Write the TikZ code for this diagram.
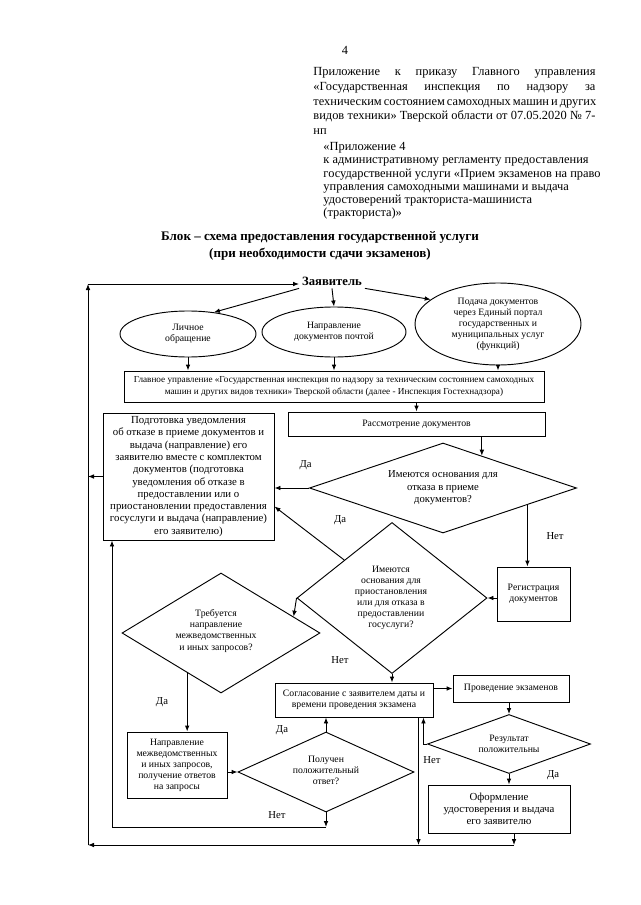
\documentclass[tikz,border=0pt]{standalone}
\usepackage{fontspec}
\setmainfont{Liberation Serif}
\usetikzlibrary{shapes.geometric,arrows.meta,calc}
\newcommand{\headfont}{\fontsize{9.3}{11.06}\selectfont}
\newcommand{\headfontb}{\fontsize{9.3}{9.9}\selectfont}
\newcommand{\titlefont}{\bfseries\fontsize{9.8}{12.75}\selectfont}
\newcommand{\zayfont}{\bfseries\fontsize{9.5}{11}\selectfont}
\newcommand{\flowfont}{\fontsize{7.3}{8.3}\selectfont}
\newcommand{\glavfont}{\fontsize{6.9}{8.3}\selectfont}
\newcommand{\midfont}{\fontsize{8}{9.3}\selectfont}
\newcommand{\bigfont}{\fontsize{8.1}{9.2}\selectfont}
\newcommand{\labfont}{\fontsize{8}{9}\selectfont}
\newcommand{\jline}[1]{\makebox[211.5pt][s]{#1}}
\begin{document}
\begin{tikzpicture}[x=0.75pt,y=-0.75pt,line width=0.7pt,
    box/.style={draw,rectangle,inner sep=0pt,align=center,font=\flowfont},
    ell/.style={draw,ellipse,inner sep=0pt,align=center,font=\flowfont},
    dec/.style={draw,diamond,inner sep=0pt},
    txt/.style={align=center,inner sep=0pt,font=\flowfont},
    lab/.style={inner sep=0pt,font=\labfont},
    arr/.style={-{Latex[length=4.5pt,width=3.5pt]}}]
    \useasboundingbox (0,0) rectangle (640,905);
    \node[inner sep=0pt,font=\headfont] (pnum) at (345,50) {4};
    \node[anchor=north west,inner sep=0pt,align=left,font=\headfont] (app1) at (313,67)
        {\jline{Приложение к приказу Главного управления}\\
         \jline{«Государственная инспекция по надзору за}\\
         \jline{техническим состоянием самоходных машин и других}\\
         \jline{видов техники» Тверской области от 07.05.2020 № 7-}\\
         нп};
    \node[anchor=north west,inner sep=0pt,align=left,font=\headfontb] (app2) at (323,142)
        {«Приложение 4\\к административному регламенту предоставления\\государственной услуги «Прием экзаменов на право\\управления самоходными машинами и выдача\\удостоверений тракториста-машиниста\\(тракториста)»};
    \node[inner sep=0pt,align=center,font=\titlefont] (title) at (320,245.5)
        {Блок – схема предоставления государственной услуги\\(при необходимости сдачи экзаменов)};

    \node[font=\zayfont,inner sep=2pt] (zay) at (332,281) {Заявитель};
    \node[ell,minimum width=102pt,minimum height=34.5pt] (el1) at (188,334) {Личное\\обращение};
    \node[ell,minimum width=108pt,minimum height=37.5pt] (el2) at (334,332) {Направление\\документов почтой};
    \node[ell,minimum width=124.5pt,minimum height=61.5pt] (el3) at (498,324)
        {Подача документов\\через Единый портал\\государственных и\\муниципальных услуг\\(функций)};
    \node[box,font=\glavfont,minimum width=315pt,minimum height=23.25pt] (glav) at (334,386.5)
        {Главное управление «Государственная инспекция по надзору за техническим состоянием самоходных\\машин и других видов техники» Тверской области (далее - Инспекция Гостехнадзора)};
    \node[box,minimum width=192.75pt,minimum height=18pt] (rass) at (416.5,424) {Рассмотрение документов};
    \node[box,font=\bigfont,minimum width=128.25pt,minimum height=95.25pt] (podg) at (188.5,476.5)
        {Подготовка уведомления\\об отказе в приеме документов и\\выдача (направление) его\\заявителю вместе с комплектом\\документов (подготовка\\уведомления об отказе в\\предоставлении или о\\приостановлении предоставления\\госуслуги и выдача (направление)\\его заявителю)};
    \node[dec,minimum width=200.25pt,minimum height=67.5pt] (d1) at (443,488) {};
    \node[txt,font=\midfont] (d1t) at (d1) {Имеются основания для\\отказа в приеме\\документов?};
    \node[box,minimum width=54.75pt,minimum height=40.5pt] (reg) at (533.5,594) {Регистрация\\документов};
    \node[dec,minimum width=142.5pt,minimum height=113.25pt] (d2) at (392,598) {};
    \node[txt] (d2t) at (391,598) {Имеются\\основания для\\приостановления\\или для отказа в\\предоставлении\\госуслуги?};
    \node[dec,minimum width=148.5pt,minimum height=90pt] (d3) at (221,633) {};
    \node[txt] (d3t) at (216,631) {Требуется\\направление\\межведомственных\\и иных запросов?};
    \node[box,minimum width=75pt,minimum height=49.5pt] (napr) at (177,765)
        {Направление\\межведомственных\\и иных запросов,\\получение ответов\\на запросы};
    \node[dec,minimum width=132pt,minimum height=60pt] (d4) at (326,772) {};
    \node[txt] (d4t) at (326,770) {Получен\\положительный\\ответ?};
    \node[box,minimum width=118.5pt,minimum height=25.5pt] (sogl) at (354,700)
        {Согласование с заявителем даты и\\времени проведения экзамена};
    \node[box,minimum width=87pt,minimum height=20.25pt] (prov) at (511,688.5) {Проведение экзаменов};
    \node[dec,minimum width=122.25pt,minimum height=44.25pt] (d5) at (509,744) {};
    \node[txt] (d5t) at (509,744) {Результат\\положительны};
    \node[box,font=\bigfont,minimum width=106.5pt,minimum height=36pt] (oform) at (499,809)
        {Оформление\\удостоверения и выдача\\его заявителю};

    \coordinate (tl) at (88,284);
    \coordinate (bl) at (88,845);
    \coordinate (il) at (112,827);
    \coordinate (d1in) at ($(d1.north)!0.29!(d1.east)$);
    \coordinate (d1out) at ($(d1.east)!0.37!(d1.south)$);
    \coordinate (d2a) at ($(d2.north)!0.5!(d2.west)$);
    \coordinate (d3a) at ($(d3.north)!0.73!(d3.east)$);
    \coordinate (d3b) at ($(d3.west)!0.66!(d3.south)$);
    \coordinate (sgd) at ($(sogl.south east)+(-15,0)$);
    \coordinate (sgu) at ($(sogl.south east)+(-10,0)$);
    \coordinate (ofd) at ($(oform.south)+(15,0)$);

    \draw[arr] (bl) -- (tl);
    \draw[arr] (tl) -- (zay.west |- tl);
    \draw[arr] (zay.south west) -- (el1.40);
    \draw[arr] (zay.south) -- (el2.north);
    \draw[arr] (zay.south east) -- (el3.160);
    \draw[arr] (el1.south) -- (el1.south |- glav.north);
    \draw[arr] (el2.south) -- (el2.south |- glav.north);
    \draw[arr] (el3.south) -- (el3.south |- glav.north);
    \draw[arr] (glav.south -| rass.north) -- (rass.north);
    \draw[arr] (rass.south -| d1in) -- (d1in);
    \draw[arr] (d1.west) -- (d1.west -| podg.east) node[lab,pos=0.1,above=13pt] {Да};
    \draw[arr] (podg.west) -- (podg.west -| bl);
    \draw[arr] (d1out) -- (d1out |- reg.north) node[lab,midway,right=14pt] {Нет};
    \draw[arr] (reg.west |- d2.east) -- (d2.east);
    \draw[arr] (d2a) -- ($(podg.east)+(0,30)$);
    \node[lab] (yes2) at (340,520) {Да};
    \draw[arr] (d2.west) -- (d3a);
    \draw[arr] (d3b) -- (d3b |- napr.north);
    \node[lab] (yes3) at (162,702) {Да};
    \draw[arr] (napr.east |- d4.west) -- (d4.west);
    \draw[arr] (d4.north) -- (d4.north |- sogl.south);
    \node[lab] (yes4) at (282,730) {Да};
    \draw[arr] (d4.south) -- (d4.south |- il);
    \node[lab] (no4) at (277,815) {Нет};
    \draw[arr] (d4.south |- il) -- (il) -- (il |- podg.south);
    \draw[arr] (d2.south) -- (d2.south |- sogl.north);
    \node[lab] (no2) at (340,660) {Нет};
    \draw[arr] (prov.west -| sogl.east) -- (prov.west);
    \draw[arr] (prov.south -| d5.north) -- (d5.north);
    \draw[arr] (d5.west) -| (sgu);
    \node[lab] (no5) at (432,760) {Нет};
    \draw[arr] (sgd) -- (sgd |- bl);
    \draw[arr] (d5.south) -- (d5.south |- oform.north);
    \node[lab] (yes5) at (553,775) {Да};
    \draw[arr] (ofd) -- (ofd |- bl);
    \draw[arr] (ofd |- bl) -- (bl);
\end{tikzpicture}
\end{document}
